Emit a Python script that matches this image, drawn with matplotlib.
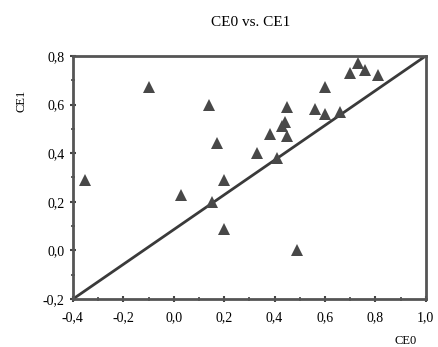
import matplotlib
matplotlib.use('Agg')
import matplotlib.pyplot as plt
from matplotlib.ticker import MultipleLocator, FuncFormatter

ce0 = [-0.35, -0.10, 0.03, 0.14, 0.15, 0.17, 0.20, 0.20, 0.33, 0.38, 0.41, 0.43,
       0.44, 0.45, 0.45, 0.49, 0.56, 0.60, 0.60, 0.66, 0.70, 0.73, 0.76, 0.81]
ce1 = [0.29, 0.67, 0.23, 0.60, 0.20, 0.44, 0.29, 0.09, 0.40, 0.48, 0.38, 0.51,
       0.53, 0.47, 0.59, 0.00, 0.58, 0.56, 0.67, 0.57, 0.73, 0.77, 0.74, 0.72]
line_x = [-0.4, 1.0]
line_y = [-0.2, 0.8]

plt.rcParams['font.family'] = ['Liberation Serif', 'DejaVu Serif']
fig = plt.figure(figsize=(4.39, 3.47), dpi=100)
ax = fig.add_axes([0.166, 0.138, 0.804, 0.701])

ax.plot(line_x, line_y, color='#3a3a3a', lw=2)
ax.plot(ce0, ce1, '^', color='#484848', markersize=8, markeredgewidth=0)

ax.set_xlim(-0.4, 1.0)
ax.set_ylim(-0.2, 0.8)
ax.xaxis.set_major_locator(MultipleLocator(0.2))
ax.yaxis.set_major_locator(MultipleLocator(0.2))
ax.xaxis.set_minor_locator(MultipleLocator(0.1))
ax.yaxis.set_minor_locator(MultipleLocator(0.1))
fmt = FuncFormatter(lambda v, p: f'{v:.1f}'.replace('.', ',').replace('-0,0', '0,0'))
ax.xaxis.set_major_formatter(fmt)
ax.yaxis.set_major_formatter(fmt)
ax.tick_params(which='major', direction='inout', length=5, width=1.5, colors='#444',
               labelsize=10, labelcolor='black')
ax.tick_params(axis='x', which='major', pad=6)
ax.tick_params(which='minor', direction='inout', length=3, width=1.2, colors='#444')
ax.tick_params(top=False, right=False, which='both')
for s in ax.spines.values():
    s.set_color('#555')
    s.set_linewidth(2)

fig.text(0.57, 0.935, 'CE0 vs. CE1', ha='center', va='center', fontsize=11)
fig.text(0.05, 0.71, 'CE1', rotation=90, ha='center', va='center', fontsize=9)
fig.text(0.925, 0.018, 'CE0', ha='center', va='center', fontsize=9)

fig.savefig('out.png', dpi=100, facecolor='white')
